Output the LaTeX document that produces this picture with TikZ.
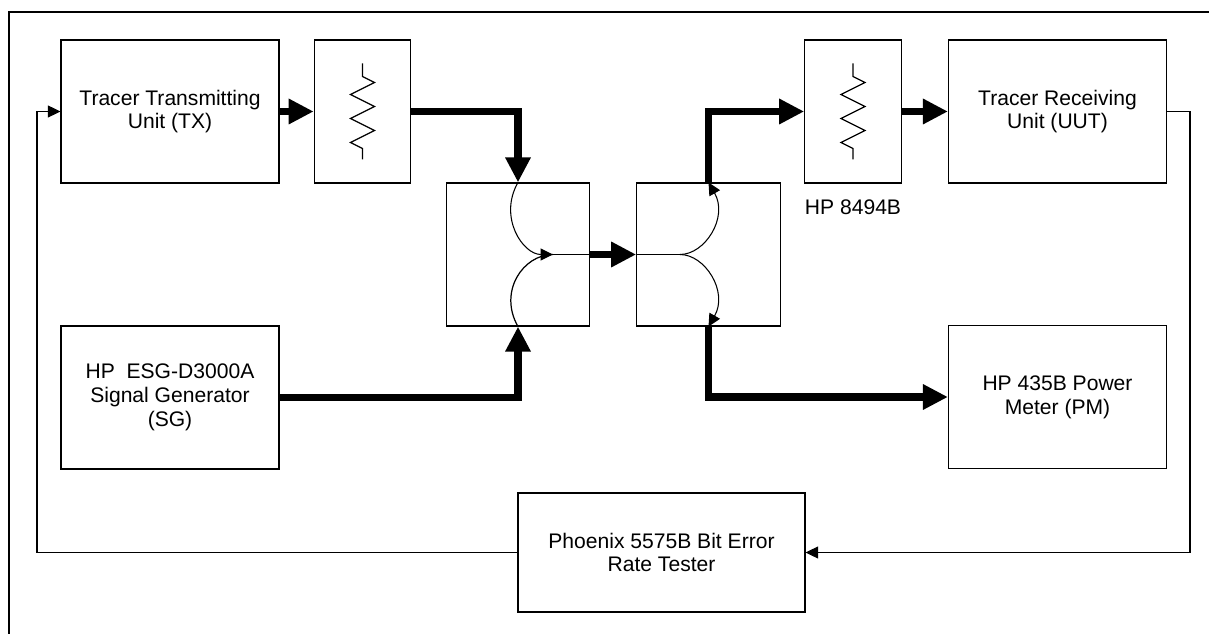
\documentclass[tikz,border=0pt]{standalone}
\usepackage{fontspec}
\setmainfont{Liberation Sans}
\usetikzlibrary{arrows.meta, calc}
\usetikzlibrary{positioning}

\begin{document}
\begin{tikzpicture}[x=0.02cm, y=-0.02cm, line width=0.7pt,
    every node/.style={font=\fontsize{12}{13.6}\selectfont, align=center},
    unit/.style={draw, minimum width=4.36cm, minimum height=2.86cm},
    pad/.style={draw, minimum width=1.93cm, minimum height=2.86cm},
    coupler/.style={draw, minimum width=2.87cm, minimum height=2.86cm},
    bigarrow/.style={line width=4pt, -{Triangle[length=0.5cm, width=0.48cm]}},
    smallarrow/.style={line width=0.6pt, -{Triangle[length=0.25cm, width=0.24cm]}}]
    \useasboundingbox (0,0) rectangle (1209,634);
    \draw[line width=1.4pt] (1209,12) -| (9,634);

    \node[unit] at (170,111.5) (TX) {Tracer Transmitting\\Unit (TX)};
    \node[pad] at (362.5,111.5) (ATT1) {};
    \node[coupler] at (518,254.5) (CPL1) {};
    \node[coupler] at (708.5,254.5) (CPL2) {};
    \node[pad] at (853,111.5) (ATT2) {};
    \node[below=9pt of ATT2, inner sep=0pt] (ATTLBL) {HP 8494B};
    \node[unit] at (1057.5,111.5) (RX) {Tracer Receiving\\Unit (UUT)};
    \node[unit] at (170,397.5) (SG) {HP\ \ ESG-D3000A\\Signal Generator\\(SG)};
    \node[unit] at (1057.5,397) (PM) {HP 435B Power\\Meter (PM)};
    \node[draw, minimum width=5.74cm, minimum height=2.38cm] at (661.5,552.5) (BERT) {Phoenix 5575B Bit Error\\Rate Tester};

    \foreach \att in {ATT1, ATT2}
        \draw ($(\att)+(0,-48)$) -- ++(0,13) -- ++(12,6) -- ++(-24,12) -- ++(24,12)
            -- ++(-24,12) -- ++(24,12) -- ++(-24,12) -- ++(12,6) -- ++(0,11);

    \coordinate (M1) at ($(CPL1)+(35,0)$);
    \coordinate (M2) at ($(CPL2)+(-28.5,0)$);
    \draw[smallarrow] (CPL1.north) .. controls +(-20,35) and +(-30,0) .. (M1);
    \draw (CPL1.south) .. controls +(-20,-35) and +(-30,0) .. (M1);
    \draw (M1) -- (CPL1.east);
    \draw (CPL2.west) -- (M2);
    \draw[smallarrow] (M2) .. controls +(25,0) and +(20,35) .. (CPL2.north);
    \draw[smallarrow] (M2) .. controls +(25,0) and +(20,-35) .. (CPL2.south);

    \draw[bigarrow] (TX) -- (ATT1);
    \draw[bigarrow] (ATT1.east) -| (CPL1.north);
    \draw[bigarrow] (SG.east) -| (CPL1.south);
    \draw[bigarrow] (CPL1.east) -- (CPL2.west);
    \draw[bigarrow] (CPL2.north) |- (ATT2.west);
    \draw[bigarrow] (ATT2) -- (RX);
    \draw[bigarrow] (CPL2.south) |- (PM.west);

    \coordinate (FBR) at (1190,552.5);
    \coordinate (FBL) at (37,552.5);
    \draw[smallarrow] (RX.east) -| (FBR) -- (BERT.east);
    \draw[smallarrow] (BERT.west) -- (FBL) |- (TX.west);
\end{tikzpicture}
\end{document}
